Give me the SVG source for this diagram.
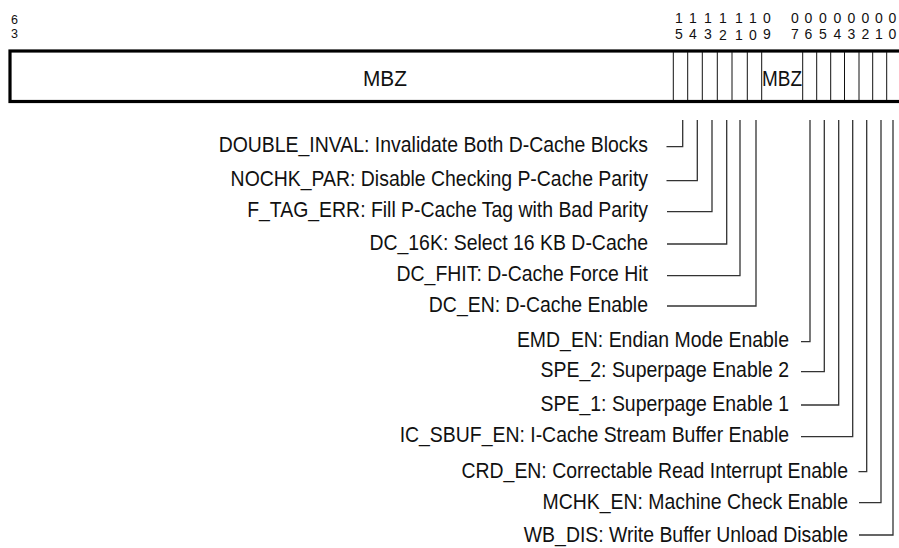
<svg xmlns="http://www.w3.org/2000/svg" width="899" height="548" viewBox="0 0 899 548">
<style>
text{font-family:"Liberation Sans",Arial,sans-serif;fill:#111}
.lbl{font-size:22px;text-anchor:end}
.bit{font-size:14px;text-anchor:middle}
.bit63{font-size:12.5px;text-anchor:middle}
.fld{font-size:22px;text-anchor:middle}
.div{stroke:#111;stroke-width:1}
.ld{fill:none;stroke:#333;stroke-width:1.3}
</style>
<rect width="899" height="548" fill="#fff"/>
<g id="bit-numbers">
<text class="bit63" x="14.5" y="23.5">6</text><text class="bit63" x="14.5" y="38">3</text>
<text class="bit" x="679" y="23">1</text><text class="bit" x="679" y="38.5">5</text>
<text class="bit" x="693" y="23">1</text><text class="bit" x="693" y="38.5">4</text>
<text class="bit" x="708" y="23">1</text><text class="bit" x="708" y="38.5">3</text>
<text class="bit" x="723" y="23">1</text><text class="bit" x="723" y="40">2</text>
<text class="bit" x="739" y="23">1</text><text class="bit" x="739" y="40">1</text>
<text class="bit" x="753" y="23">1</text><text class="bit" x="753" y="40">0</text>
<text class="bit" x="767" y="23">0</text><text class="bit" x="767" y="38.5">9</text>
<text class="bit" x="795" y="23">0</text><text class="bit" x="795" y="38.5">7</text>
<text class="bit" x="808.5" y="23">0</text><text class="bit" x="808.5" y="38.5">6</text>
<text class="bit" x="823" y="23">0</text><text class="bit" x="823" y="38.5">5</text>
<text class="bit" x="837.5" y="23">0</text><text class="bit" x="837.5" y="38.5">4</text>
<text class="bit" x="851.5" y="23">0</text><text class="bit" x="851.5" y="38.5">3</text>
<text class="bit" x="865.5" y="23">0</text><text class="bit" x="865.5" y="38.5">2</text>
<text class="bit" x="879" y="23">0</text><text class="bit" x="879" y="38.5">1</text>
<text class="bit" x="892.5" y="23">0</text><text class="bit" x="892.5" y="38.5">0</text>
</g>
<g id="register">
<rect x="10" y="51" width="905" height="50.5" fill="#fff" stroke="#000" stroke-width="3.2"/>
<g class="div">
<line x1="673.3" y1="52" x2="673.3" y2="100"/>
<line x1="687.7" y1="52" x2="687.7" y2="100"/>
<line x1="702.3" y1="52" x2="702.3" y2="100"/>
<line x1="717.3" y1="52" x2="717.3" y2="100"/>
<line x1="732" y1="52" x2="732" y2="100"/>
<line x1="747.3" y1="52" x2="747.3" y2="100"/>
<line x1="761.7" y1="52" x2="761.7" y2="100"/>
<line x1="802.7" y1="52" x2="802.7" y2="100"/>
<line x1="816.7" y1="52" x2="816.7" y2="100"/>
<line x1="830.7" y1="52" x2="830.7" y2="100"/>
<line x1="844.5" y1="52" x2="844.5" y2="100"/>
<line x1="859" y1="52" x2="859" y2="100"/>
<line x1="872.7" y1="52" x2="872.7" y2="100"/>
<line x1="886.7" y1="52" x2="886.7" y2="100"/>
</g>
<text class="fld" x="385" y="86" textLength="44" lengthAdjust="spacingAndGlyphs">MBZ</text>
<text class="fld" x="782" y="86" textLength="40" lengthAdjust="spacingAndGlyphs">MBZ</text>
</g>
<g id="connectors" class="ld">
<polyline points="666.5,146.7 682.7,146.7 682.7,120"/>
<polyline points="666.5,180.7 697.3,180.7 697.3,120"/>
<polyline points="667,211.7 712,211.7 712,120"/>
<polyline points="667,244 726.7,244 726.7,120"/>
<polyline points="667,275.7 740,275.7 740,120"/>
<polyline points="667,306 756,306 756,120"/>
<polyline points="801,341.7 810,341.7 810,120"/>
<polyline points="801,371.7 824.3,371.7 824.3,120"/>
<polyline points="801,405 838.7,405 838.7,120"/>
<polyline points="801,436.7 852.7,436.7 852.7,120"/>
<polyline points="858.5,471.7 866.7,471.7 866.7,120"/>
<polyline points="859,502.7 881,502.7 881,120"/>
<polyline points="859,535 893,535 893,120"/>
</g>
<g id="double-inval" transform="translate(648,152) scale(0.883,1)"><text class="lbl">DOUBLE_INVAL: Invalidate Both D-Cache Blocks</text></g>
<g id="nochk-par" transform="translate(648,186) scale(0.883,1)"><text class="lbl">NOCHK_PAR: Disable Checking P-Cache Parity</text></g>
<g id="f-tag-err" transform="translate(648,217) scale(0.883,1)"><text class="lbl">F_TAG_ERR: Fill P-Cache Tag with Bad Parity</text></g>
<g id="dc-16k" transform="translate(648,249.5) scale(0.883,1)"><text class="lbl">DC_16K: Select 16 KB D-Cache</text></g>
<g id="dc-fhit" transform="translate(648,281) scale(0.883,1)"><text class="lbl">DC_FHIT: D-Cache Force Hit</text></g>
<g id="dc-en" transform="translate(648,311.5) scale(0.883,1)"><text class="lbl">DC_EN: D-Cache Enable</text></g>
<g id="emd-en" transform="translate(789,347) scale(0.883,1)"><text class="lbl">EMD_EN: Endian Mode Enable</text></g>
<g id="spe-2" transform="translate(789,377) scale(0.883,1)"><text class="lbl">SPE_2: Superpage Enable 2</text></g>
<g id="spe-1" transform="translate(789,410.5) scale(0.883,1)"><text class="lbl">SPE_1: Superpage Enable 1</text></g>
<g id="ic-sbuf-en" transform="translate(789,442) scale(0.883,1)"><text class="lbl">IC_SBUF_EN: I-Cache Stream Buffer Enable</text></g>
<g id="crd-en" transform="translate(848,477.5) scale(0.883,1)"><text class="lbl">CRD_EN: Correctable Read Interrupt Enable</text></g>
<g id="mchk-en" transform="translate(848,508.5) scale(0.883,1)"><text class="lbl">MCHK_EN: Machine Check Enable</text></g>
<g id="wb-dis" transform="translate(848,541.5) scale(0.883,1)"><text class="lbl">WB_DIS: Write Buffer Unload Disable</text></g>
</svg>
